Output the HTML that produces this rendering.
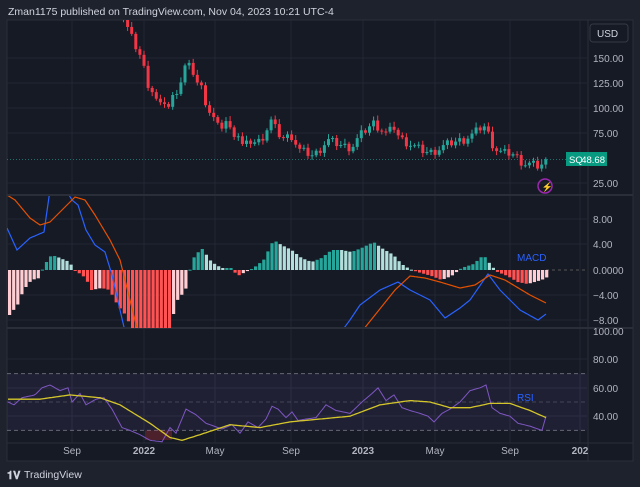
<!DOCTYPE html>
<html><head><meta charset="utf-8"><style>
html,body{margin:0;padding:0;background:#1e222d;width:640px;height:487px;overflow:hidden;font-family:"Liberation Sans",sans-serif}
svg{display:block}
text{font-family:"Liberation Sans",sans-serif}
</style></head><body>
<svg id="s" width="640" height="487" xmlns="http://www.w3.org/2000/svg">
<rect x="0" y="0" width="640" height="487" fill="#1e222d"/>
<rect x="7" y="20" width="626" height="441" fill="#161a25" stroke="#2a2e39"/>
<text x="8" y="15" font-size="10.5" fill="#d1d4dc">Zman1175 published on TradingView.com, Nov 04, 2023 10:21 UTC-4</text>
<g id="g"></g>
<text x="24" y="478" font-size="10.5" fill="#d1d4dc">TradingView</text>
<text x="7" y="479" font-size="11" font-weight="bold" fill="#d1d4dc">𝟏𝐕</text>
</svg>
<script>
const g=document.getElementById('g');let h='';
const R=587;
function interp(pts,x){for(let i=0;i<pts.length-1;i++){if(x>=pts[i][0]&&x<=pts[i+1][0]){const t=(x-pts[i][0])/(pts[i+1][0]-pts[i][0]);return pts[i][1]+t*(pts[i+1][1]-pts[i][1]);}}return x<pts[0][0]?pts[0][1]:pts[pts.length-1][1];}
[72,144,215,291,363,435,510,580].forEach(x=>h+=`<line x1="${x}" y1="20" x2="${x}" y2="443" stroke="#232734"/>`);
[58,83,108,133,183].forEach(y=>h+=`<line x1="7" y1="${y}" x2="${R}" y2="${y}" stroke="#232734"/>`);
[219,244,295,320].forEach(y=>h+=`<line x1="7" y1="${y}" x2="${R}" y2="${y}" stroke="#232734"/>`);
[359,388,416].forEach(y=>h+=`<line x1="7" y1="${y}" x2="${R}" y2="${y}" stroke="#232734"/>`);
h+=`<line x1="7" y1="195" x2="633" y2="195" stroke="#2a2e39" stroke-width="2"/>`;
h+=`<line x1="7" y1="328" x2="633" y2="328" stroke="#2a2e39" stroke-width="2"/>`;
h+=`<line x1="7" y1="443" x2="633" y2="443" stroke="#2a2e39"/>`;
h+=`<line x1="${R+1}" y1="20" x2="${R+1}" y2="461" stroke="#2a2e39"/>`;
[[150,58],[125,83],[100,108],[75,133],[25,183]].forEach(a=>h+=`<text x="593" y="${a[1]+4}" font-size="10" fill="#b2b5be">${a[0].toFixed(2)}</text>`);
h+=`<rect x="590" y="24" width="38" height="18" rx="3" fill="#161a25" stroke="#363a45"/><text x="597" y="37" font-size="10" fill="#d1d4dc">USD</text>`;
h+=`<line x1="7" y1="159.5" x2="${R}" y2="159.5" stroke="#26a69a" stroke-dasharray="1,2" opacity="0.6"/>`;
h+=`<rect x="566" y="152" width="41" height="14" fill="#089981"/><text x="569" y="163" font-size="9.5" fill="#fff">SQ</text><text x="605" y="163" font-size="9.5" fill="#fff" text-anchor="end">48.68</text>`;
h+=`<circle cx="545" cy="186" r="7" fill="none" stroke="#9c27b0" stroke-width="1.5"/><text x="541.5" y="190" font-size="9" fill="#9c27b0">⚡</text>`;
const cp=[[122,190],[128,175],[134,162],[140,150],[146,125],[152,115],[158,100],[162,108],[168,100],[172,113],[178,122],[184,143],[190,140],[196,125],[200,120],[206,100],[212,90],[218,78],[224,88],[230,75],[236,75],[242,60],[248,67],[256,65],[262,72],[270,88],[276,75],[282,70],[290,72],[298,58],[306,55],[312,52],[318,58],[326,68],[334,65],[342,62],[350,60],[358,72],[366,80],[372,85],[380,78],[386,74],[392,82],[398,70],[404,66],[412,62],[420,58],[428,55],[436,58],[444,63],[452,66],[462,68],[472,74],[478,80],[484,82],[490,65],[496,57],[502,55],[510,55],[516,50],[522,44],[530,44],[536,42],[542,44],[546,48.7]];
let prev=195,k=0;
for(let x=122;x<=546;x+=4.1){k++;let c=interp(cp,x)+((k*37)%7-3)*1.3; if(x>544)c=48.7;
 const o=prev;const up=c>=o;const hi=Math.max(o,c)+2+(k%4);const lo=Math.min(o,c)-2-(k%3);
 const col=up?'#26a69a':'#f23645';
 const yt=Math.max(20,208-hi),yb=208-lo;
 if(yb>20){h+=`<line x1="${x+1.5}" y1="${yt}" x2="${x+1.5}" y2="${yb}" stroke="${col}"/>`;
 const bt=Math.max(20,208-Math.max(o,c)),bb=208-Math.min(o,c);
 if(bb>20)h+=`<rect x="${x}" y="${bt}" width="3" height="${Math.max(1,bb-bt)}" fill="${col}"/>`;}
 prev=c;}
[[8,219],[4,244],[0,270],[-4,295],[-8,320]].forEach(a=>h+=`<text x="593" y="${a[1]+4}" font-size="10" fill="#b2b5be">${a[0]==0?'0.0000':a[0].toFixed(2).replace('-','−')}</text>`);
h+=`<line x1="546" y1="270" x2="${R}" y2="270" stroke="#555" stroke-dasharray="3,3"/>`;
h+=`<text x="517" y="261" font-size="10" fill="#2962ff">MACD</text>`;
const hp=[[8,-45],[16,-35],[22,-20],[30,-10],[38,-8],[42,4],[50,15],[56,13],[68,8],[72,1],[76,-2],[84,-8],[90,-20],[100,-18],[108,-20],[116,-35],[124,-45],[130,-58],[168,-58],[176,-30],[184,-20],[188,-1],[192,12],[200,22],[210,8],[220,2],[230,2],[236,-6],[244,-2],[252,2],[262,10],[272,30],[280,25],[290,20],[300,12],[310,8],[320,12],[330,20],[340,20],[350,18],[360,22],[372,28],[380,22],[392,15],[400,6],[408,1],[416,-2],[430,-6],[440,-10],[450,-6],[460,2],[472,6],[482,15],[490,4],[496,-2],[506,-6],[516,-12],[526,-14],[540,-10],[546,-7]];
let pv=null;
for(let x=8;x<=546;x+=4.1){const v=interp(hp,x);const p=pv===null?v-1:pv;let col;
 if(v>=0)col=v>=p?'#26a69a':'#b2dfdb';else col=v<=p?'#ff5252':'#ffcdd2';
 const y=v>=0?270-v:270;h+=`<rect x="${x}" y="${y}" width="3.2" height="${Math.max(1,Math.abs(v))}" fill="${col}"/>`;pv=v;}
function path(pts,f,step){let d='';for(let x=pts[0][0];x<=pts[pts.length-1][0];x+=step){d+=(d?'L':'M')+x.toFixed(1)+','+f(interp(pts,x),x).toFixed(1);}return d;}
h+=`<clipPath id="cm"><rect x="7" y="196" width="${R-7}" height="131"/></clipPath><clipPath id="cr"><rect x="7" y="329" width="${R-7}" height="114"/></clipPath>`;
const blue=[[7,228],[17,250],[30,238],[44,232],[50,190],[60,180],[72,200],[78,205],[86,230],[95,245],[105,252],[112,275],[120,310],[127,340]];
const blue2=[[335,340],[350,320],[360,305],[380,290],[398,282],[410,290],[430,300],[445,318],[460,308],[470,300],[488,274],[500,290],[520,310],[538,320],[546,314]];
const or=[[7,195],[15,200],[30,218],[40,225],[50,222],[75,197],[85,200],[95,215],[110,240],[120,260],[130,300],[140,340]];
const or2=[[355,340],[375,315],[395,290],[410,276],[425,278],[440,282],[460,288],[475,285],[490,275],[505,280],[530,295],[546,303]];
[[blue,'#2962ff'],[blue2,'#2962ff'],[or,'#e65100'],[or2,'#e65100']].forEach(a=>h+=`<path d="${path(a[0],v=>v,1)}" fill="none" stroke="${a[1]}" stroke-width="1.2" clip-path="url(#cm)"/>`);
[[100,331],[80,359],[60,388],[40,416]].forEach(a=>h+=`<text x="593" y="${a[1]+4}" font-size="10" fill="#b2b5be">${a[0].toFixed(2)}</text>`);
const ry=v=>473-1.42*v;
h+=`<rect x="7" y="${ry(70)}" width="${R-7}" height="${ry(30)-ry(70)}" fill="#7e57c2" opacity="0.1"/>`;
[70,50,30].forEach(v=>h+=`<line x1="7" y1="${ry(v)}" x2="${R}" y2="${ry(v)}" stroke="#787b86" stroke-dasharray="4,3" opacity="${v==50?0.4:0.8}"/>`);
h+=`<rect x="145" y="${ry(30)}" width="27" height="${443-ry(30)-3}" fill="#f23645" opacity="0.25"/>`;
const pr=[[8,50],[14,48],[22,53],[35,55],[42,60],[50,62],[60,58],[68,60],[72,50],[80,56],[86,48],[96,52],[104,53],[112,45],[122,32],[130,30],[140,27],[150,23],[162,22],[170,32],[176,28],[186,45],[196,41],[206,35],[214,33],[222,31],[232,34],[240,28],[248,36],[258,32],[266,38],[272,47],[278,45],[286,39],[292,43],[298,37],[306,38],[316,39],[326,48],[336,44],[350,42],[362,50],[372,56],[378,60],[386,51],[394,55],[402,46],[410,44],[420,42],[428,40],[434,36],[442,42],[450,45],[460,50],[470,58],[480,60],[486,62],[492,46],[500,42],[510,40],[518,35],[530,33],[542,30],[546,40]];
const ye=[[8,52],[40,52],[70,55],[100,53],[120,48],[150,35],[170,25],[182,23],[200,27],[230,34],[260,32],[290,36],[320,38],[350,40],[380,48],[410,51],[430,50],[450,46],[470,46],[490,49],[510,49],[530,44],[546,39]];
h+=`<path d="${path(pr,ry,2)}" fill="none" stroke="#7e57c2" stroke-width="1" clip-path="url(#cr)"/>`;
h+=`<path d="${path(ye,ry,2)}" fill="none" stroke="#d4c62a" stroke-width="1.3" clip-path="url(#cr)"/>`;
h+=`<text x="517" y="401" font-size="10" fill="#2962ff">RSI</text>`;
[['Sep',72],['2022',144,1],['May',215],['Sep',291],['2023',363,1],['May',435],['Sep',510],['202',580,1]].forEach(a=>h+=`<text x="${a[1]}" y="454" font-size="10" fill="#b2b5be" text-anchor="middle" font-weight="${a[2]?'bold':'normal'}">${a[0]}</text>`);
g.innerHTML=h;
</script>
</body></html>
